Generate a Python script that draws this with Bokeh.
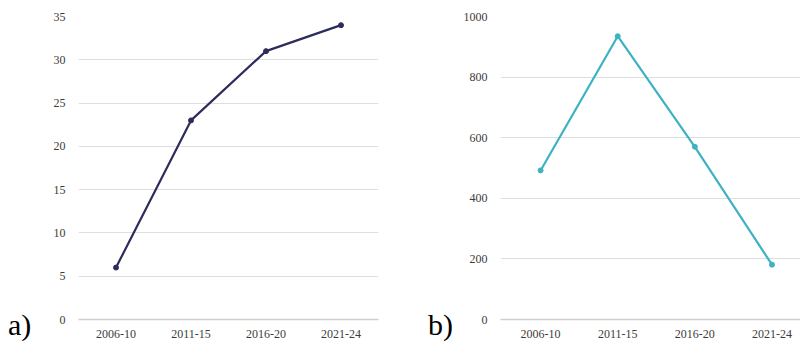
from bokeh.plotting import figure
from bokeh.models import Range1d, FixedTicker, Div
from bokeh.layouts import row
from bokeh.embed import file_html
from bokeh.resources import INLINE

periods = ["2006-10", "2011-15", "2016-20", "2021-24"]
values_a = [6, 23, 31, 34]
values_b = [492, 935, 570, 181]
ticks_a = [0, 5, 10, 15, 20, 25, 30, 35]
ticks_b = [0, 200, 400, 600, 800, 1000]
tags = ["a)", "b)"]

FONT = "Liberation Serif"
H = 340


def make_fig(vals, yticks, ymax, color, width, border_left, border_right, border_top, xr):
    xs = list(range(len(periods)))
    p = figure(width=width, height=H, output_backend="svg", toolbar_location=None,
               x_range=xr, y_range=Range1d(0, ymax),
               min_border_left=border_left, min_border_right=border_right,
               min_border_top=border_top, min_border_bottom=0)
    p.outline_line_color = None
    p.background_fill_color = "white"
    p.border_fill_color = "white"
    p.xgrid.grid_line_color = None
    p.ygrid.grid_line_color = "#dedede"
    p.ygrid.grid_line_width = 1
    p.ygrid.ticker = FixedTicker(ticks=yticks)
    p.yaxis.ticker = FixedTicker(ticks=yticks)
    p.xaxis.ticker = FixedTicker(ticks=xs)
    p.xaxis.major_label_overrides = {i: s for i, s in enumerate(periods)}
    for ax in (p.xaxis, p.yaxis):
        ax.axis_line_color = None
        ax.major_tick_line_color = None
        ax.minor_tick_line_color = None
        ax.major_label_text_font = FONT
        ax.major_label_text_font_size = "12px"
        ax.major_label_text_color = "#3c3c3c"
    p.xaxis.axis_line_color = "#cfcfcf"
    p.xaxis.axis_line_width = 1.5
    p.yaxis.major_label_standoff = 7
    p.xaxis.major_label_standoff = 4
    p.line(xs, vals, line_color=color, line_width=2.2)
    p.scatter(xs, vals, size=5, fill_color=color, line_color=color)
    return p


def make_tag(text):
    html = ('<div style="padding-top:310px;padding-left:8px;font-family:\'Liberation Serif\';'
            'font-size:30px;line-height:30px;color:black;white-space:nowrap;">%s</div>' % text)
    return Div(text=html, width=40, height=H, margin=0)


pa = make_fig(values_a, ticks_a, 35, "#2e2c5c", 380, 38, 42, 16, Range1d(-0.5, 3.5))
pb = make_fig(values_b, ticks_b, 1000, "#3cb2c2", 340, 33, 0, 12, Range1d(-0.52, 3.37))

layout = row(make_tag(tags[0]), pa, make_tag(tags[1]), pb, spacing=0)
open("out.html", "w").write(file_html(layout, INLINE))
